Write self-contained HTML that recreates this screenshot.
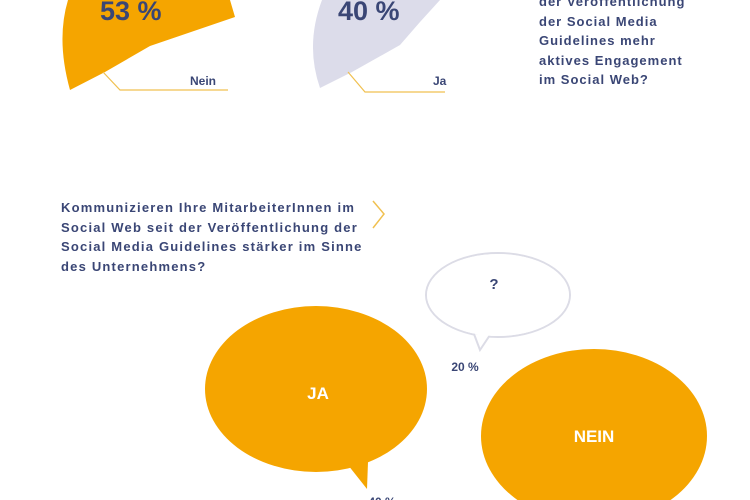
<!DOCTYPE html>
<html><head><meta charset="utf-8"><style>
body{margin:0;width:750px;height:500px;overflow:hidden;background:#fff;font-family:"Liberation Sans",sans-serif}
svg{position:absolute;left:0;top:0}
.t{position:absolute;color:#3a4675;font-weight:bold;font-size:13px;line-height:19.5px;white-space:nowrap}
</style></head><body>
<svg width="750" height="500">
<path d="M68,0 Q56,40 70,90 L105,72 L150,46 L235,17 L230,0 Z" fill="#f5a500"/>
<path d="M322,0 Q305,45 320,88 L352,72 L400,45 L420,22 L440,0 Z" fill="#dcdcea"/>
<polyline points="103,72 120,90 228,90" fill="none" stroke="#f0c050" stroke-width="1.2"/>
<polyline points="348,72 365,92 445,92" fill="none" stroke="#f0c050" stroke-width="1.2"/>
<text x="100" y="20" font-size="27" font-weight="bold" fill="#3a4675" font-family="Liberation Sans">53 %</text>
<text x="338" y="20" font-size="27" font-weight="bold" fill="#3a4675" font-family="Liberation Sans">40 %</text>
<text x="190" y="85" font-size="12" font-weight="bold" fill="#3a4675" font-family="Liberation Sans">Nein</text>
<text x="433" y="85" font-size="12" font-weight="bold" fill="#3a4675" font-family="Liberation Sans">Ja</text>
<polyline points="373,201 384,214 373,228" fill="none" stroke="#f0c050" stroke-width="1.5"/>
<ellipse cx="498" cy="295" rx="72" ry="42" fill="#fff" stroke="#dcdce6" stroke-width="2"/>
<path d="M474,334 L480,350 L490,335" fill="#fff" stroke="#dcdce6" stroke-width="2"/>
<ellipse cx="498" cy="295" rx="71" ry="41" fill="#fff"/>
<text x="494" y="289" font-size="15" font-weight="bold" fill="#3a4675" text-anchor="middle" font-family="Liberation Sans">?</text>
<text x="465" y="371" font-size="12" font-weight="bold" fill="#3a4675" text-anchor="middle" font-family="Liberation Sans">20 %</text>
<ellipse cx="316" cy="389" rx="111" ry="83" fill="#f5a500"/>
<path d="M348,465 L367,489 L368,462 Z" fill="#f5a500"/>
<text x="318" y="399" font-size="17" font-weight="bold" fill="#fff" text-anchor="middle" font-family="Liberation Sans">JA</text>
<ellipse cx="594" cy="436" rx="113" ry="87" fill="#f5a500"/>
<text x="594" y="442" font-size="17" font-weight="bold" fill="#fff" text-anchor="middle" font-family="Liberation Sans">NEIN</text>
<text x="382" y="506" font-size="12" font-weight="bold" fill="#3a4675" text-anchor="middle" font-family="Liberation Sans">40 %</text>
</svg>
<div class="t" style="left:539px;top:-8px;letter-spacing:1px">der Veröffentlichung<br>der Social Media<br>Guidelines mehr<br>aktives Engagement<br>im Social Web?</div>
<div class="t" style="left:61px;top:198px;font-size:13px;letter-spacing:1.2px">Kommunizieren Ihre MitarbeiterInnen im<br>Social Web seit der Veröffentlichung der<br>Social Media Guidelines stärker im Sinne<br>des Unternehmens?</div>
</body></html>
